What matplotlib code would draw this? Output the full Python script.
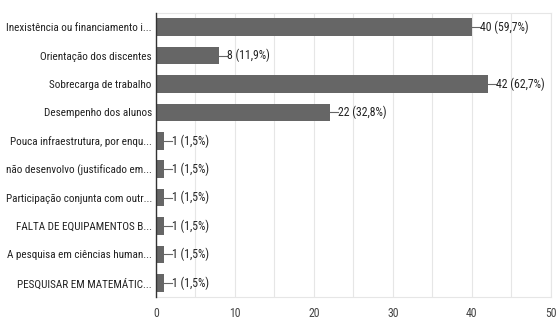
import matplotlib
matplotlib.use("Agg")
import matplotlib.pyplot as plt

categories = [
    "Inexistência ou financiamento i...",
    "Orientação dos discentes",
    "Sobrecarga de trabalho",
    "Desempenho dos alunos",
    "Pouca infraestrutura, por enqu...",
    "não desenvolvo (justificado em...",
    "Participação conjunta com outr...",
    "FALTA DE EQUIPAMENTOS B...",
    "A pesquisa em ciências human...",
    "PESQUISAR EM MATEMÁTIC...",
]
values = [40, 8, 42, 22, 1, 1, 1, 1, 1, 1]
labels = ["40 (59,7%)", "8 (11,9%)", "42 (62,7%)", "22 (32,8%)",
          "1 (1,5%)", "1 (1,5%)", "1 (1,5%)", "1 (1,5%)", "1 (1,5%)", "1 (1,5%)"]
xticks = [0, 10, 20, 30, 40, 50]

plt.rcParams["font.family"] = ["Roboto Condensed", "Roboto", "DejaVu Sans"]

fig = plt.figure(figsize=(5.57, 3.25), dpi=100)
ax = fig.add_axes([0.280, 0.086, 0.709, 0.874])

y = list(range(len(categories)))
ax.barh(y, values, height=0.62, color="#666666", zorder=3)
ax.set_ylim(len(categories) - 0.5, -0.5)
ax.set_xlim(0, 50)
ax.set_xticks(xticks)
ax.set_xticks([5, 15, 25, 35, 45], minor=True)
ax.set_xticklabels([str(t) for t in xticks], fontsize=8.5, color="#444444")
ax.set_yticks(y)
ax.set_yticklabels(categories, fontsize=8, color="#222222")
ax.tick_params(axis="both", which="both", length=0, pad=3)
ax.tick_params(axis="x", pad=7)
ax.grid(axis="x", which="both", color="#e6e6e6", linewidth=0.8, zorder=0)
for s in ["top", "right", "bottom"]:
    ax.spines[s].set_color("#e6e6e6")
    ax.spines[s].set_linewidth(0.8)
ax.spines["left"].set_color("#333333")
ax.spines["left"].set_linewidth(1.0)
ax.spines["left"].set_zorder(4)

for yi, v, lab in zip(y, values, labels):
    ax.plot([v, v + 1.0], [yi, yi], color="#666666", linewidth=0.8, zorder=3, clip_on=False)
    ax.text(v + 1.05, yi, lab, va="center", ha="left", fontsize=8.5, color="#222222")

fig.savefig("out.png", dpi=100)
